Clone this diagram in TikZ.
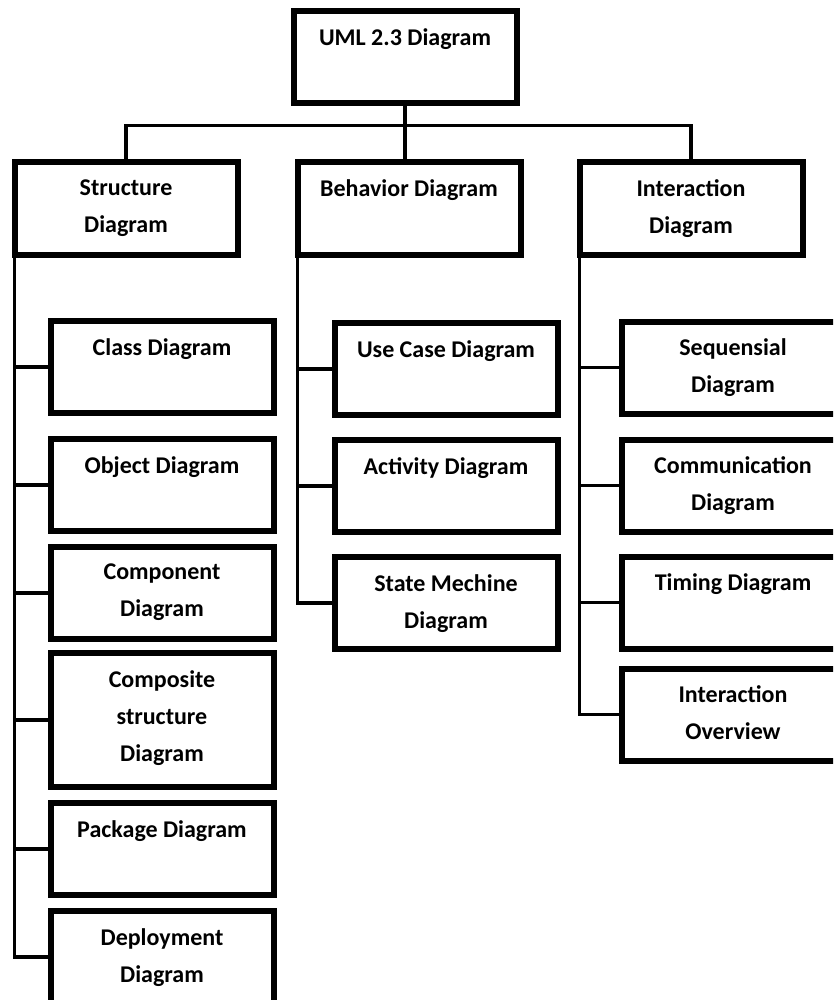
\documentclass[tikz,border=0pt]{standalone}
\usepackage{fontspec}
\setmainfont{Carlito}
\usetikzlibrary{positioning}
\tikzstyle{diag} = [rectangle, draw, line width=6pt, outer sep=0pt,
    minimum width=223pt, minimum height=92pt]
\tikzstyle{tall} = [diag, minimum height=134pt]
\tikzstyle{caption} = [anchor=north, yshift=-17pt, align=center,
    inner sep=0pt, font=\bfseries\fontsize{24}{37}\selectfont]
\tikzstyle{line} = [draw, line width=3.5pt]

\begin{document}
\begin{tikzpicture}[node distance=25pt]
    \useasboundingbox (0,0) rectangle (833pt,-1000pt);
    \clip (0,0) rectangle (833pt,-1000pt);

    \node[diag, label={[caption]north:UML 2.3 Diagram}] (uml) at (405pt,-57pt) {};

    \node[diag, label={[caption]north:Structure\\Diagram}] (struct) at (126pt,-208.5pt) {};
    \node[diag, label={[caption]north:Behavior Diagram}] (behav) at (409pt,-208.5pt) {};
    \node[diag, label={[caption]north:Interaction\\Diagram}] (inter) at (691pt,-208.5pt) {};

    % structure diagrams
    \node[diag, label={[caption]north:Class Diagram}] (class) at (162pt,-367pt) {};
    \node[diag, below=26pt of class, label={[caption]north:Object Diagram}] (object) {};
    \node[diag, below=16pt of object, label={[caption]north:Component\\Diagram}] (comp) {};
    \node[tall, below=14pt of comp, label={[caption]north:Composite\\structure\\Diagram}] (compos) {};
    \node[diag, below=16pt of compos, label={[caption]north:Package Diagram}] (pack) {};
    \node[diag, below=16pt of pack, label={[caption]north:Deployment\\Diagram}] (deploy) {};

    % behavior diagrams
    \node[diag, label={[caption]north:Use Case Diagram}] (usecase) at (446pt,-369pt) {};
    \node[diag, below=25pt of usecase, label={[caption]north:Activity Diagram}] (activ) {};
    \node[diag, below=25pt of activ, label={[caption]north:State Mechine\\Diagram}] (state) {};

    % interaction diagrams
    \node[diag, label={[caption]north:Sequensial\\Diagram}] (seq) at (733pt,-367.5pt) {};
    \node[diag, below=26pt of seq, label={[caption]north:Communication\\Diagram}] (comm) {};
    \node[diag, below=25pt of comm, label={[caption]north:Timing Diagram}] (timing) {};
    \node[diag, below=20pt of timing, label={[caption]north:Interaction\\Overview}] (overview) {};

    \path [line] (uml.south) -- (uml.south |- behav.north);
    \path [line] (struct.north) -- ++(0,37pt) -| (inter.north);

    \path [line] (struct.south west) |- (class.west);
    \path [line] (struct.south west) |- (object.west);
    \path [line] (struct.south west) |- (comp.west);
    \path [line] (struct.south west) |- (compos.west);
    \path [line] (struct.south west) |- (pack.west);
    \path [line] (struct.south west) |- (deploy.west);

    \path [line] (behav.south west) |- (usecase.west);
    \path [line] (behav.south west) |- (activ.west);
    \path [line] (behav.south west) |- (state.west);

    \path [line] (inter.south west) |- (seq.west);
    \path [line] (inter.south west) |- (comm.west);
    \path [line] (inter.south west) |- (timing.west);
    \path [line] (inter.south west) |- (overview.west);
\end{tikzpicture}
\end{document}
